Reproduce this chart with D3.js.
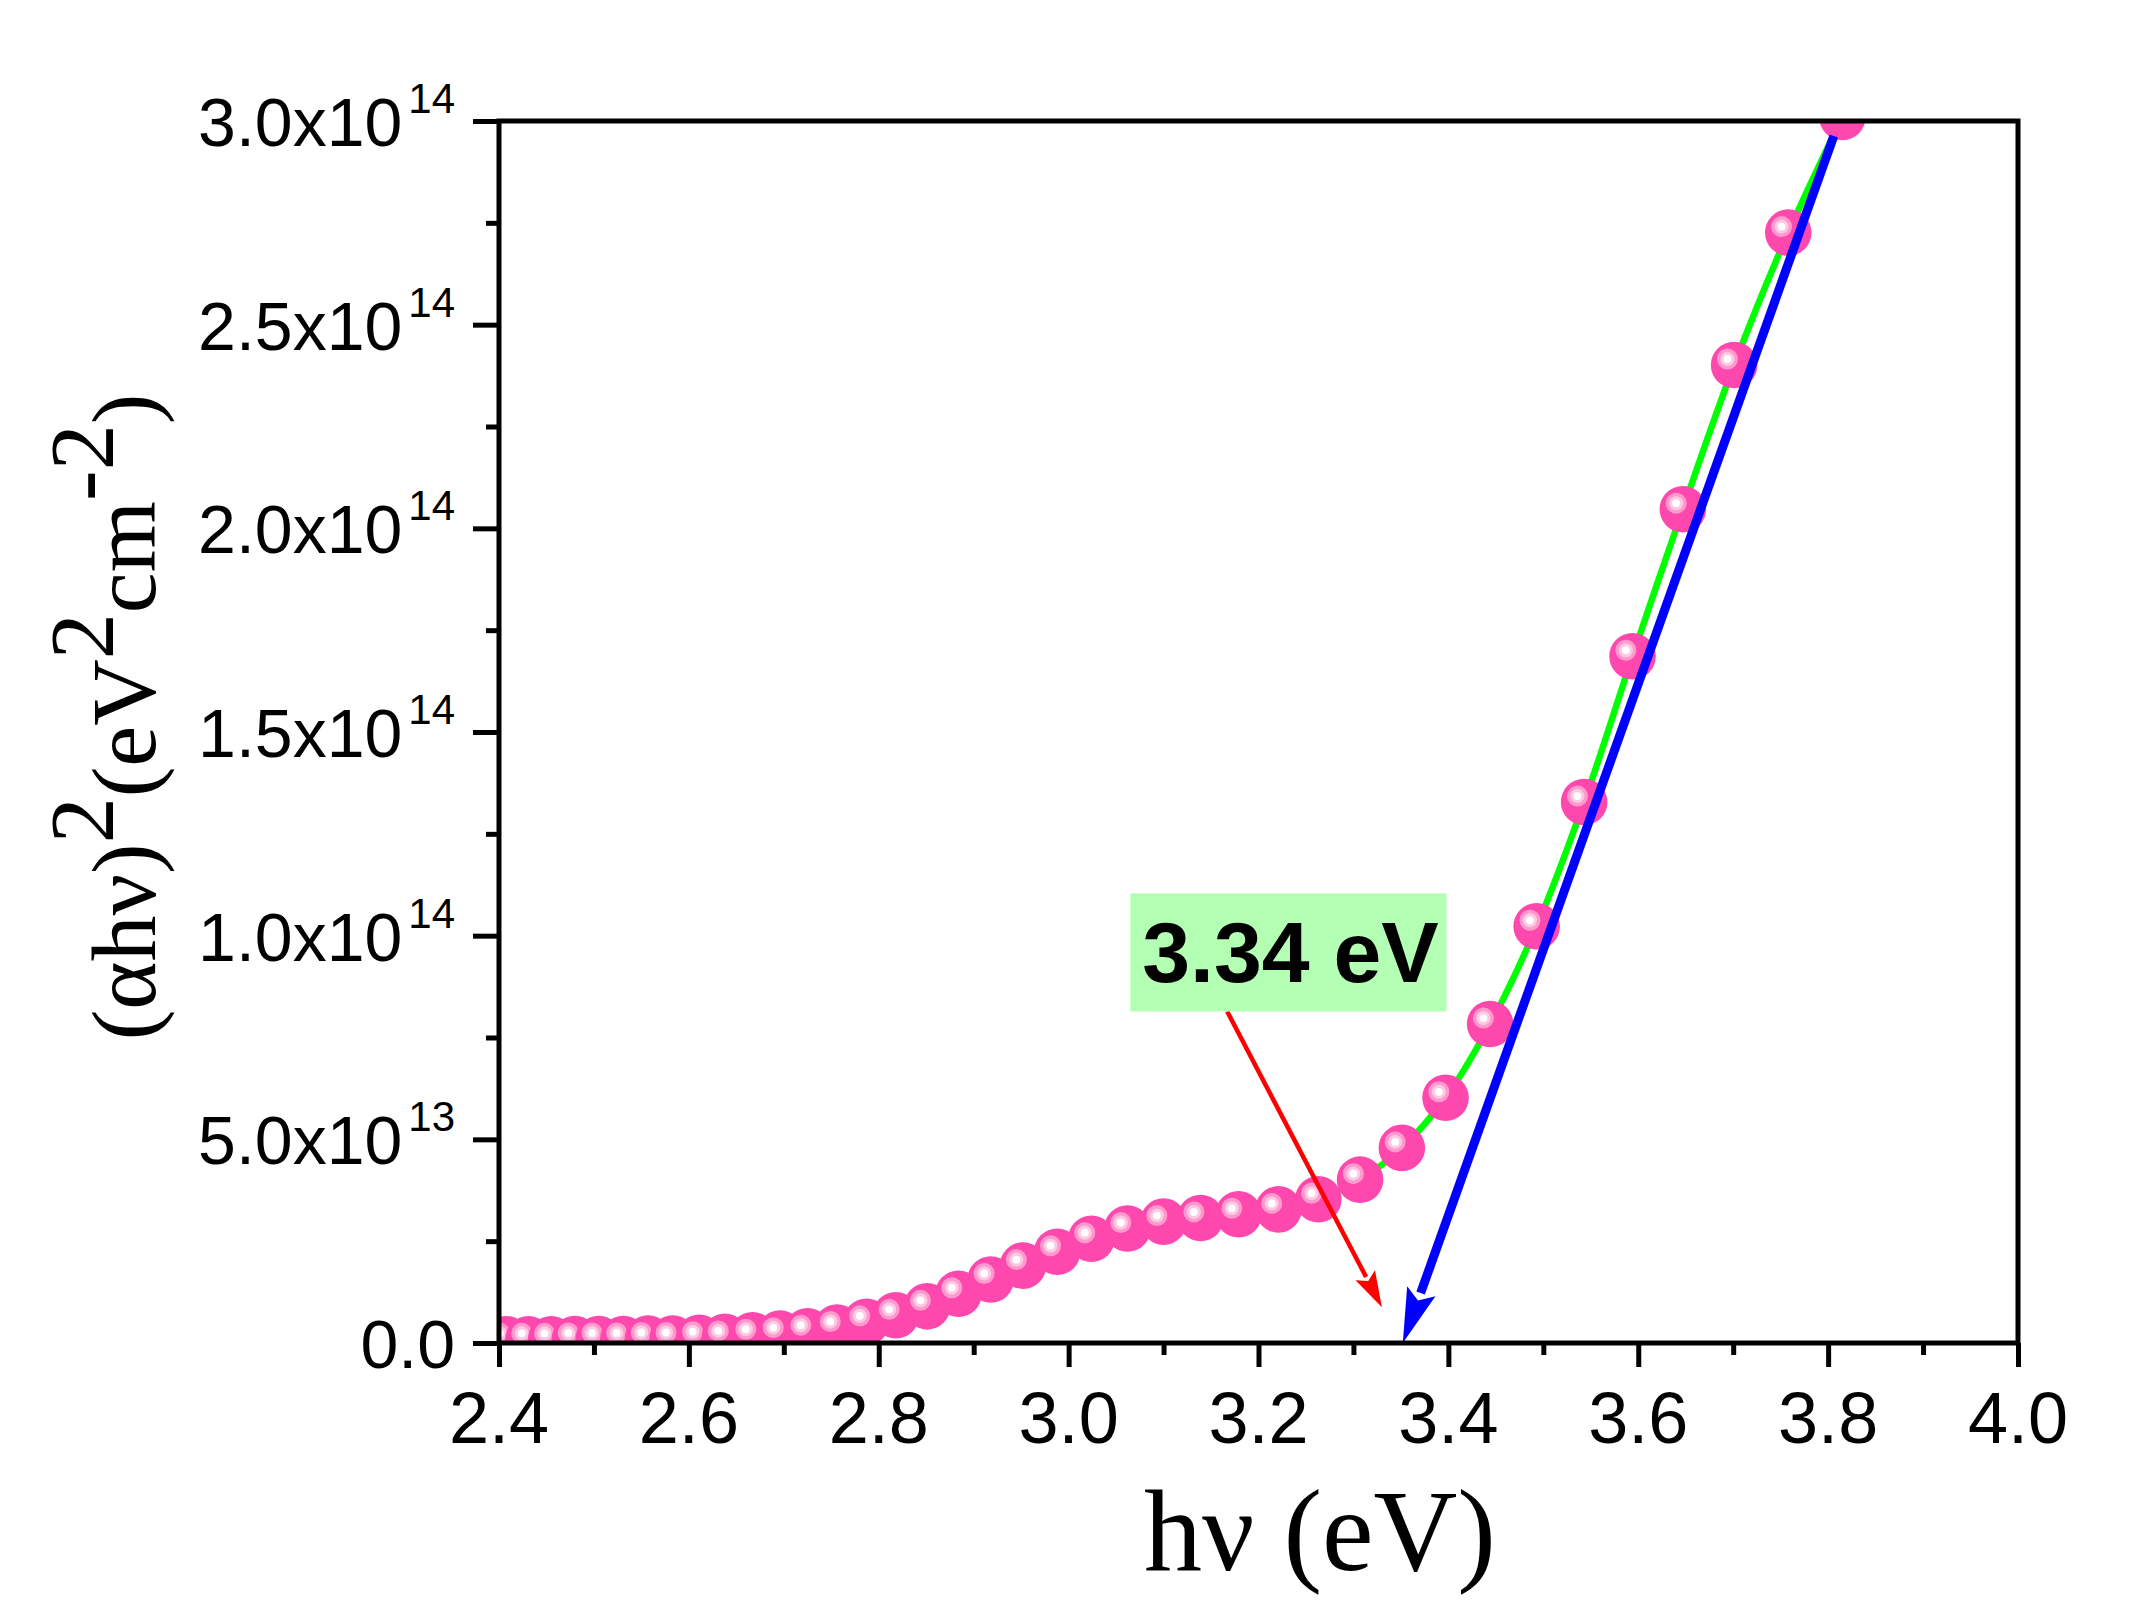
<!DOCTYPE html>
<html>
<head>
<meta charset="utf-8">
<script src="https://cdn.jsdelivr.net/npm/d3@7"></script>
<style>
  html, body { margin: 0; padding: 0; background: #ffffff; }
  svg { display: block; }
</style>
</head>
<body>
<svg id="chart" width="2136" height="1615"></svg>
<script>
// ---------------- DATA ----------------
const energy = [2.408, 2.431, 2.455, 2.480, 2.505, 2.531, 2.557, 2.583, 2.611, 2.638,
                2.667, 2.696, 2.725, 2.756, 2.787, 2.818, 2.851, 2.884, 2.918, 2.952,
                2.988, 3.024, 3.062, 3.100, 3.139, 3.179, 3.221, 3.263, 3.307, 3.351,
                3.397, 3.444, 3.493, 3.543, 3.594, 3.647, 3.701, 3.758, 3.815];
// (alpha h nu)^2 in units of 1e14 eV^2 cm^-2
const absorb14 = [0.009, 0.009, 0.009, 0.010, 0.010, 0.010, 0.011, 0.011, 0.013, 0.015,
                  0.019, 0.023, 0.029, 0.038, 0.052, 0.068, 0.090, 0.121, 0.156, 0.190,
                  0.224, 0.256, 0.281, 0.298, 0.307, 0.316, 0.328, 0.353, 0.401, 0.479,
                  0.602, 0.783, 1.023, 1.328, 1.686, 2.047, 2.401, 2.726, 3.010];
const fitStartEnergy = 3.263;              // green fit curve starts here
const tangentStart = [3.806, 2.963e14];    // blue extrapolation line (top)
const tangentEnd   = [3.352, 0];           // blue arrow tip on the x axis
const calloutBox   = {x0: 3.065, x1: 3.398, yTop: 1.104e14, yBottom: 0.814e14};
const calloutText  = "3.34 eV";
const calloutArrowStart = [3.167, 0.814e14];
const calloutArrowEnd   = [3.330, 0.088e14];

const xDomain = [2.4, 4.0];
const yDomain = [0, 3.0e14];
const xTicks = [2.4, 2.6, 2.8, 3.0, 3.2, 3.4, 3.6, 3.8, 4.0];
const xTickLabels = ["2.4", "2.6", "2.8", "3.0", "3.2", "3.4", "3.6", "3.8", "4.0"];
const xMinorTicks = [2.5, 2.7, 2.9, 3.1, 3.3, 3.5, 3.7, 3.9];
const yTicks = [0, 5e13, 1e14, 1.5e14, 2e14, 2.5e14, 3e14];
const yTickMantissa = ["0.0", "5.0x10", "1.0x10", "1.5x10", "2.0x10", "2.5x10", "3.0x10"];
const yTickExponent = ["", "13", "14", "14", "14", "14", "14"];
const yMinorTicks = [2.5e13, 7.5e13, 1.25e14, 1.75e14, 2.25e14, 2.75e14];

// ---------------- LAYOUT ----------------
const W = 2136, H = 1615;
const plot = {left: 499, right: 2018, top: 121, bottom: 1343};
const sansFont = "'Liberation Sans', Arial, sans-serif";
const serifFont = "'Liberation Serif', 'Times New Roman', serif";

const svg = d3.select("#chart");
svg.append("rect").attr("width", W).attr("height", H).attr("fill", "#ffffff");

const x = d3.scaleLinear().domain(xDomain).range([plot.left, plot.right]);
const y = d3.scaleLinear().domain(yDomain).range([plot.bottom, plot.top]);

const points = energy.map((e, i) => ({e: e, v: absorb14[i] * 1e14}));

// clip to plot area
const defs = svg.append("defs");
defs.append("clipPath").attr("id", "plotClip")
  .append("rect")
  .attr("x", plot.left).attr("y", plot.top)
  .attr("width", plot.right - plot.left).attr("height", plot.bottom - plot.top);

const inner = svg.append("g").attr("clip-path", "url(#plotClip)");

// green fit curve (behind the dots)
const fitPts = points.filter(p => p.e >= fitStartEnergy);
inner.append("path")
  .datum(fitPts)
  .attr("fill", "none")
  .attr("stroke", "#00ff00")
  .attr("stroke-width", 6.5)
  .attr("d", d3.line().x(d => x(d.e)).y(d => y(d.v)).curve(d3.curveCatmullRom.alpha(0.5)));

// dots with a glossy highlight
const R = 23.3;
const dots = inner.append("g").selectAll("g.dot").data(points).join("g")
  .attr("class", "dot")
  .attr("transform", d => `translate(${x(d.e)},${y(d.v)})`);
dots.append("circle").attr("r", R).attr("fill", "#ff48ae");
dots.append("circle").attr("cx", -6.7).attr("cy", -6).attr("r", 10.5).attr("fill", "#ff9acc");
dots.append("circle").attr("cx", -6.7).attr("cy", -6).attr("r", 7).attr("fill", "#ffc8e4");
dots.append("circle").attr("cx", -6.7).attr("cy", -6).attr("r", 3.9).attr("fill", "#ffffff");

// arrow helper (pixel-space head computed from scaled endpoints)
function drawArrow(g, p0, p1, color, width, headLen, headHalf) {
  const x0 = x(p0[0]), y0 = y(p0[1]), x1 = x(p1[0]), y1 = y(p1[1]);
  const dx = x1 - x0, dy = y1 - y0, L = Math.hypot(dx, dy);
  const ux = dx / L, uy = dy / L, nx = -uy, ny = ux;
  const bx = x1 - ux * headLen, by = y1 - uy * headLen;
  g.append("line")
    .attr("x1", x0).attr("y1", y0)
    .attr("x2", bx + ux * 2).attr("y2", by + uy * 2)
    .attr("stroke", color).attr("stroke-width", width);
  g.append("path")
    .attr("d", `M${x1},${y1} L${bx + nx * headHalf},${by + ny * headHalf} L${bx + ux * headLen * 0.18},${by + uy * headLen * 0.18} L${bx - nx * headHalf},${by - ny * headHalf} Z`)
    .attr("fill", color);
}

const annot = svg.append("g");
// blue extrapolation line
drawArrow(annot, tangentStart, tangentEnd, "#0000ff", 9, 55, 15);
// red callout arrow
drawArrow(annot, calloutArrowStart, calloutArrowEnd, "#ff0000", 4.5, 36, 11);

// callout box
annot.append("rect")
  .attr("x", x(calloutBox.x0)).attr("y", y(calloutBox.yTop))
  .attr("width", x(calloutBox.x1) - x(calloutBox.x0))
  .attr("height", y(calloutBox.yBottom) - y(calloutBox.yTop))
  .attr("fill", "#b3ffb3");
annot.append("text")
  .attr("x", (x(calloutBox.x0) + x(calloutBox.x1)) / 2 + 2)
  .attr("y", y(calloutBox.yTop) + 89)
  .attr("text-anchor", "middle")
  .attr("font-family", sansFont)
  .attr("font-weight", "bold")
  .attr("font-size", 86)
  .attr("fill", "#000")
  .text(calloutText);

// ---------------- AXES ----------------
const axisStroke = 5;
function styleAxis(g) {
  g.select(".domain").remove();
  g.selectAll("line").attr("stroke", "#000").attr("stroke-width", axisStroke);
  g.selectAll("text").remove();
}
svg.append("g").attr("transform", `translate(0,${plot.bottom})`)
  .call(d3.axisBottom(x).tickValues(xTicks).tickSize(24).tickSizeOuter(0).tickFormat(""))
  .call(styleAxis);
svg.append("g").attr("transform", `translate(0,${plot.bottom})`)
  .call(d3.axisBottom(x).tickValues(xMinorTicks).tickSize(12).tickSizeOuter(0).tickFormat(""))
  .call(styleAxis);
svg.append("g").attr("transform", `translate(${plot.left},0)`)
  .call(d3.axisLeft(y).tickValues(yTicks).tickSize(26).tickSizeOuter(0).tickFormat(""))
  .call(styleAxis);
svg.append("g").attr("transform", `translate(${plot.left},0)`)
  .call(d3.axisLeft(y).tickValues(yMinorTicks).tickSize(13).tickSizeOuter(0).tickFormat(""))
  .call(styleAxis);

// frame
svg.append("rect")
  .attr("x", plot.left).attr("y", plot.top)
  .attr("width", plot.right - plot.left).attr("height", plot.bottom - plot.top)
  .attr("fill", "none").attr("stroke", "#000").attr("stroke-width", axisStroke);

// x tick labels
svg.append("g").selectAll("text").data(xTicks).join("text")
  .attr("x", d => x(d))
  .attr("y", plot.bottom + 100)
  .attr("text-anchor", "middle")
  .attr("font-family", sansFont)
  .attr("font-size", 72)
  .attr("fill", "#000")
  .text((d, i) => xTickLabels[i]);

// y tick labels with superscript exponents
const yl = svg.append("g").selectAll("text").data(yTicks).join("text")
  .attr("x", 455)
  .attr("y", d => y(d) + 25)
  .attr("text-anchor", "end")
  .attr("font-family", sansFont)
  .attr("font-size", 68)
  .attr("fill", "#000");
yl.append("tspan").text((d, i) => yTickMantissa[i]);
yl.filter((d, i) => yTickExponent[i] !== "")
  .append("tspan")
  .attr("dx", 6).attr("dy", -33)
  .attr("font-size", 42)
  .text(d => yTickExponent[yTicks.indexOf(d)]);

// x axis title
svg.append("text")
  .attr("x", 1320).attr("y", 1570)
  .attr("text-anchor", "middle")
  .attr("font-family", serifFont)
  .attr("font-size", 116)
  .attr("fill", "#000")
  .text("h\u03bd (eV)");

// y axis title with full-size raised superscripts
const yt = svg.append("text")
  .attr("transform", "translate(155,717) rotate(-90)")
  .attr("text-anchor", "middle")
  .attr("font-family", serifFont)
  .attr("font-size", 92)
  .attr("fill", "#000");
const yParts = [["(\u03b1h\u03bd)", 0], ["2", -42], ["(eV", 42], ["2", -42], ["cm", 42], ["-2", -42], [")", 42]];
yParts.forEach(p => {
  yt.append("tspan").attr("dy", p[1]).text(p[0]);
});
</script>
</body>
</html>
